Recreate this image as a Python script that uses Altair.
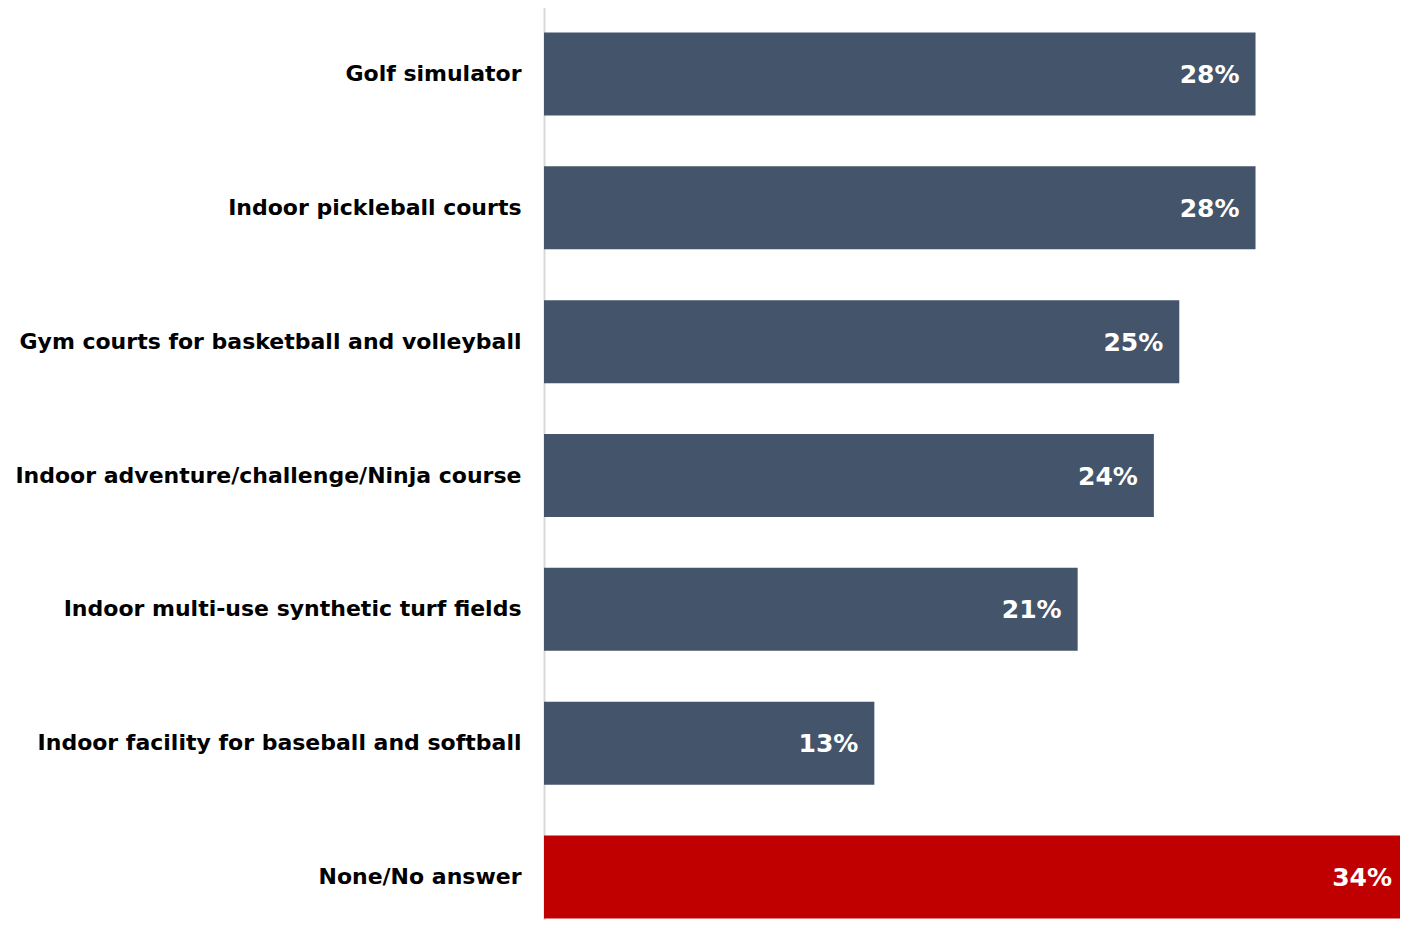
import altair as alt
import pandas as pd

categories = [
    "Golf simulator",
    "Indoor pickleball courts",
    "Gym courts for basketball and volleyball",
    "Indoor adventure/challenge/Ninja course",
    "Indoor multi-use synthetic turf fields",
    "Indoor facility for baseball and softball",
    "None/No answer",
]
values = [28, 28, 25, 24, 21, 13, 34]
labels = ["28%", "28%", "25%", "24%", "21%", "13%", "34%"]
groups = ["item", "item", "item", "item", "item", "item", "none"]

df = pd.DataFrame({"category": categories, "value": values, "label": labels, "group": groups})

FONT = "DejaVu Sans"

y_enc = alt.Y(
    "category:N",
    sort=categories,
    title=None,
    scale=alt.Scale(paddingInner=0.38, paddingOuter=0.19, range=[-1, 936]),
    axis=alt.Axis(
        ticks=False,
        labelFont=FONT,
        labelFontSize=22,
        labelFontWeight="bold",
        labelColor="#000000",
        labelPadding=23,
        labelLimit=600,
        domainColor="#D9D9D9",
        domainWidth=2,
        grid=False,
    ),
)
x_enc = alt.X("value:Q", scale=alt.Scale(domain=[0, 34], nice=False, range=[0, 864]), axis=None)

bars = alt.Chart(df).mark_bar().encode(
    y=y_enc,
    x=x_enc,
    color=alt.Color(
        "group:N",
        scale=alt.Scale(domain=["item", "none"], range=["#44546A", "#C00000"]),
        legend=None,
    ),
)

text = alt.Chart(df).mark_text(
    align="right", baseline="middle", dx=-16, dy=1, color="white",
    font=FONT, fontSize=25, fontWeight="bold",
).encode(y=alt.Y("category:N", sort=categories), x=x_enc, text="label:N")

chart = (
    alt.layer(bars, text)
    .properties(
        width=856,
        height=912,
        autosize="none",
        padding={"left": 536, "top": 0, "right": 0, "bottom": 0},
    )
    .configure_view(stroke=None)
)

chart.save("out.html", embed_options={"renderer": "svg", "actions": False})
